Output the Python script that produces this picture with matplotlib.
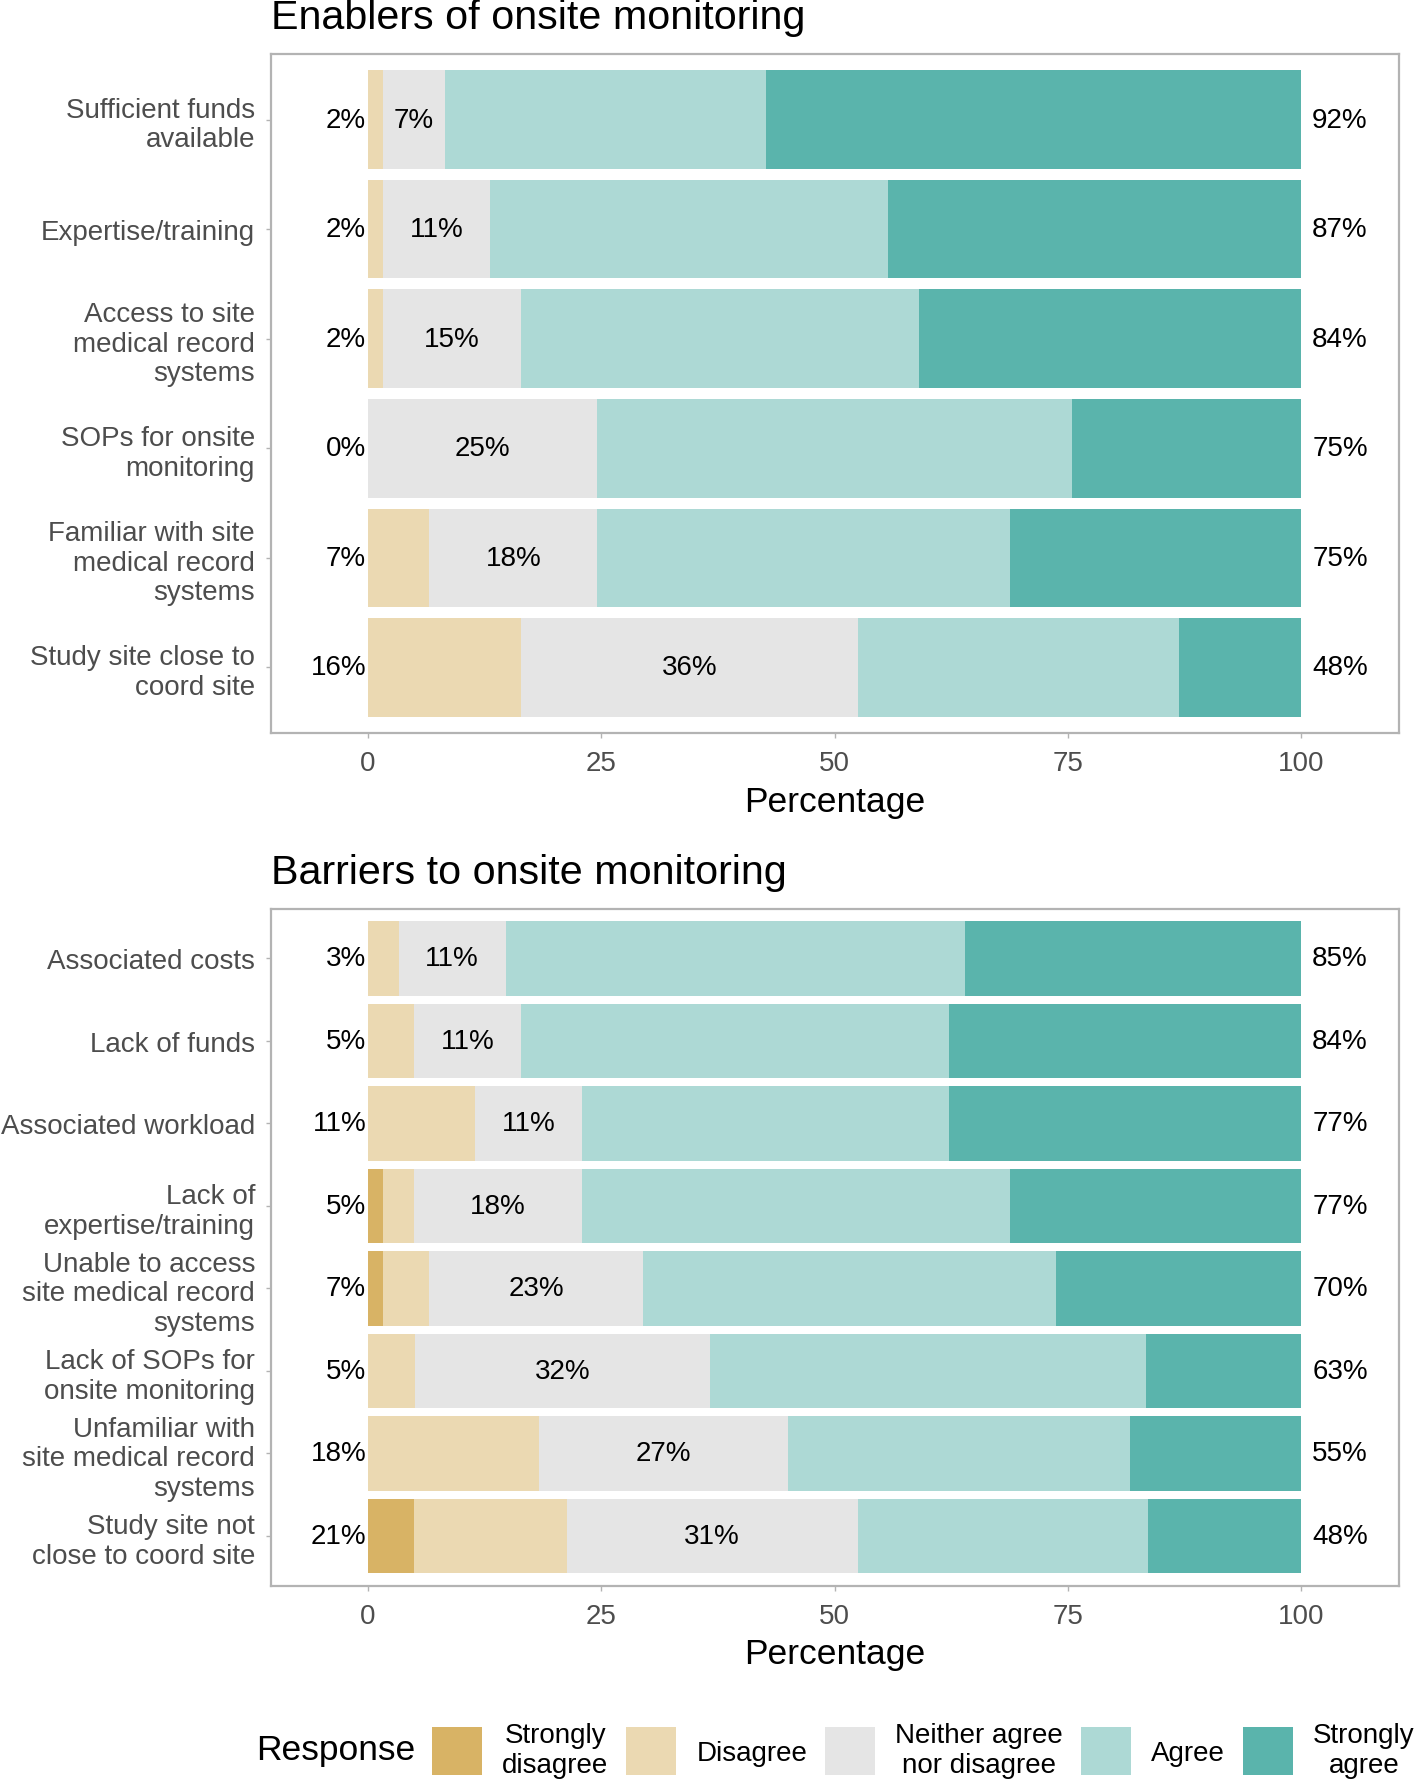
import matplotlib
matplotlib.use("Agg")
import matplotlib.pyplot as plt
import numpy as np
from matplotlib.patches import Patch

plt.rcParams['font.family'] = ['Liberation Sans', 'DejaVu Sans']

# response levels and colours
responses = ['Strongly\ndisagree', 'Disagree', 'Neither agree\nnor disagree', 'Agree', 'Strongly\nagree']
colors = ['#D8B365', '#EBD9B2', '#E5E5E5', '#ADD9D5', '#5AB4AC']

# enablers (percent of respondents)
enab_cats = ['Sufficient funds\navailable', 'Expertise/training', 'Access to site\nmedical record\nsystems',
             'SOPs for onsite\nmonitoring', 'Familiar with site\nmedical record\nsystems',
             'Study site close to\ncoord site']
enab_sd = [0, 0, 0, 0, 0, 0]
enab_d = [1.64, 1.64, 1.64, 0, 6.56, 16.39]
enab_n = [6.56, 11.48, 14.75, 24.59, 18.03, 36.07]
enab_a = [34.43, 42.62, 42.62, 50.82, 44.26, 34.43]
enab_sa = [57.38, 44.26, 40.98, 24.59, 31.15, 13.11]

# barriers (percent of respondents)
barr_cats = ['Associated costs', 'Lack of funds', 'Associated workload', 'Lack of\nexpertise/training',
             'Unable to access\nsite medical record\nsystems', 'Lack of SOPs for\nonsite monitoring',
             'Unfamiliar with\nsite medical record\nsystems', 'Study site not\nclose to coord site']
barr_sd = [0, 0, 0, 1.64, 1.64, 0, 0, 4.92]
barr_d = [3.28, 4.92, 11.48, 3.28, 4.92, 5.0, 18.33, 16.39]
barr_n = [11.48, 11.48, 11.48, 18.03, 22.95, 31.67, 26.67, 31.15]
barr_a = [49.18, 45.90, 39.34, 45.90, 44.26, 46.67, 36.67, 31.15]
barr_sa = [36.07, 37.70, 37.70, 31.15, 26.23, 16.67, 18.33, 16.39]

FS = 20
GREY = '#B3B3B3'


def draw_panel(ax, title, cats, sd, d, n, a, sa):
    y = np.arange(len(cats))
    left = np.zeros(len(cats))
    for vals, col in zip([sd, d, n, a, sa], colors):
        vals = np.array(vals, dtype=float)
        ax.barh(y, vals, left=left, height=0.9, color=col, linewidth=0)
        left += vals

    for i in range(len(cats)):
        low = sd[i] + d[i]
        high = a[i] + sa[i]
        ax.text(-0.2, i, f"{round(low)}%", ha='right', va='center', fontsize=FS, color='black')
        ax.text(low + n[i] / 2, i, f"{round(n[i])}%", ha='center', va='center', fontsize=FS, color='black')
        ax.text(101.2, i, f"{round(high)}%", ha='left', va='center', fontsize=FS, color='black')

    ax.set_xlim(-10.4, 110.5)
    ax.set_ylim(len(cats) - 0.4, -0.6)
    ax.set_yticks(y)
    ax.set_yticklabels(cats, fontsize=FS, color='#4D4D4D', linespacing=1.18)
    ax.set_xticks([0, 25, 50, 75, 100])
    ax.set_xticklabels(['0', '25', '50', '75', '100'], fontsize=FS, color='#4D4D4D')
    ax.tick_params(axis='both', length=3.5, width=1, color=GREY)
    ax.tick_params(axis='y', pad=8)
    ax.tick_params(axis='x', pad=9)
    for sp in ax.spines.values():
        sp.set_color(GREY)
        sp.set_linewidth(1.6)
    ax.set_xlabel('Percentage', fontsize=25.5, labelpad=6)
    ax.text(0, 1.026, title, transform=ax.transAxes, fontsize=29.7, ha='left', va='bottom')


fig = plt.figure(figsize=(14.16, 17.83), dpi=100)

ax1 = fig.add_axes([0.1914, 0.5883, 0.7966, 0.3809])
ax2 = fig.add_axes([0.1914, 0.1102, 0.7966, 0.3795])

draw_panel(ax1, 'Enablers of onsite monitoring', enab_cats, enab_sd, enab_d, enab_n, enab_a, enab_sa)
draw_panel(ax2, 'Barriers to onsite monitoring', barr_cats, barr_sd, barr_d, barr_n, barr_a, barr_sa)

handles = [Patch(facecolor=c, label=l) for c, l in zip(colors, responses)]
leg = fig.legend(handles=handles, loc='center left', bbox_to_anchor=(0.305, 0.018), ncol=5,
                 frameon=False, fontsize=FS, handlelength=1.81, handleheight=2.3,
                 handletextpad=0.72, columnspacing=0.64, borderpad=0, borderaxespad=0)
for t in leg.get_texts():
    t.set_multialignment('center')
    t.set_linespacing(1.18)
fig.text(256 / 1416, 0.018, 'Response', fontsize=25.5, ha='left', va='center')

fig.savefig('out.png', dpi=100)
